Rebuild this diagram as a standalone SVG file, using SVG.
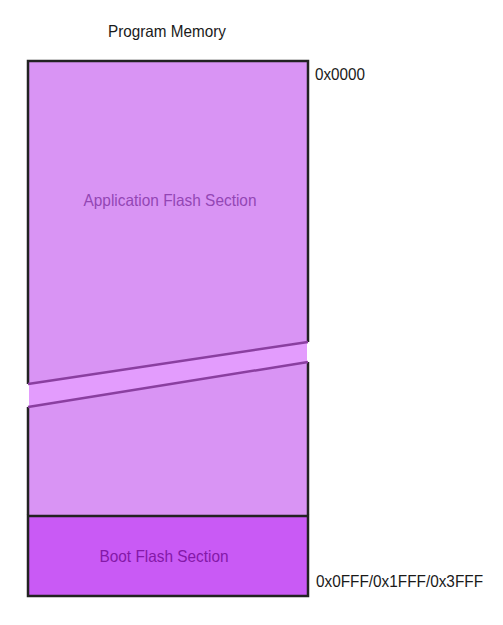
<svg xmlns="http://www.w3.org/2000/svg" width="503" height="625" viewBox="0 0 503 625">
<style>
.lbl{font-family:"Liberation Sans",Arial,sans-serif;font-size:16.5px;fill:#1a1a1a}
.sec{font-family:"Liberation Sans",Arial,sans-serif;font-size:16.5px;text-anchor:middle}
.edge{fill:none;stroke:#222;stroke-width:2.5}
.diag{fill:none;stroke:#8a3fa0;stroke-width:2.5}
</style>
<rect width="503" height="625" fill="#fff"/>
<g id="title"><text class="lbl" x="167" y="37" text-anchor="middle" textLength="118" lengthAdjust="spacingAndGlyphs">Program Memory</text></g>
<g id="app">
<polygon points="28,61 308,61 308,342 28,384" fill="#d994f4"/>
<polygon points="28,407 308,362 308,515 28,515" fill="#d994f4"/>
<polygon points="29,384 307,342 307,362 29,407" fill="#e39cfd"/>
<polyline class="edge" points="28,384 28,61 308,61 308,342"/>
<polyline class="edge" points="308,362 308,515"/>
<polyline class="edge" points="28,407 28,515"/>
<text class="sec" x="170" y="206" fill="#9346b4" textLength="173" lengthAdjust="spacingAndGlyphs">Application Flash Section</text>
</g>
<g id="boot">
<rect x="28" y="516" width="280" height="80" fill="#c95af5" stroke="#222" stroke-width="2.5"/>
<text class="sec" x="164" y="562" fill="#8418a8" textLength="129" lengthAdjust="spacingAndGlyphs">Boot Flash Section</text>
</g>
<g id="connectors">
<line class="diag" x1="28" y1="384" x2="308" y2="342"/>
<line class="diag" x1="28" y1="407" x2="308" y2="362"/>
</g>
<g id="addr">
<text class="lbl" x="315" y="80" textLength="50" lengthAdjust="spacingAndGlyphs">0x0000</text>
<text class="lbl" x="316" y="587" textLength="167" lengthAdjust="spacingAndGlyphs">0x0FFF/0x1FFF/0x3FFF</text>
</g>
</svg>
